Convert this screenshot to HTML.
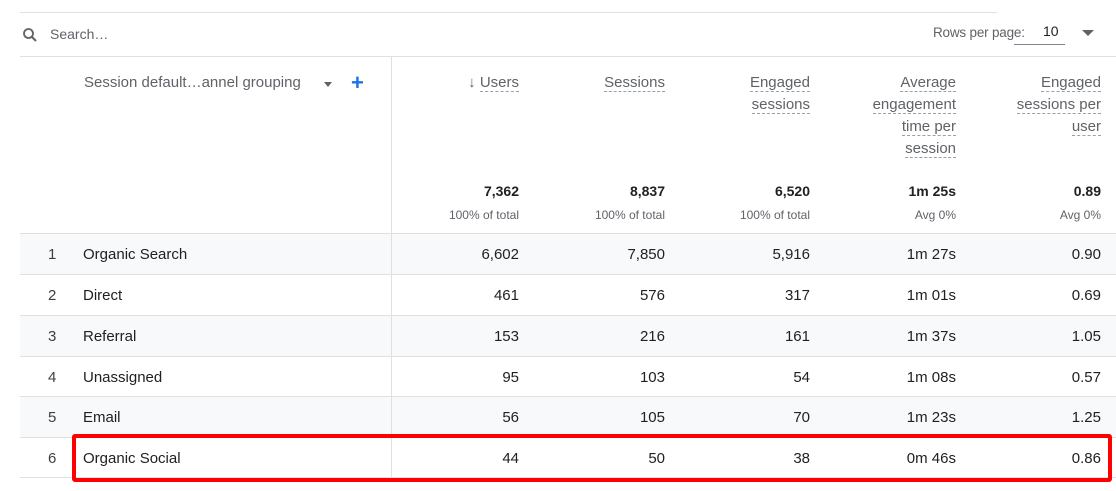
<!DOCTYPE html>
<html><head><style>
*{margin:0;padding:0;box-sizing:border-box}
body{width:1116px;height:491px;background:#fff;font-family:"Liberation Sans",sans-serif;position:relative;overflow:hidden;color:#202124}
.a{position:absolute;white-space:nowrap}
.hl{position:absolute;height:1px;background:#e0e0e0}
.r{text-align:right}
.h{color:#5f6368;font-size:15px;line-height:22px}
.h span{border-bottom:1px dashed #9aa0a6}
.tot{font-size:14px;font-weight:bold;color:#202124}
.sub{font-size:12px;color:#5f6368}
.row{position:absolute;left:20px;width:1096px;height:41px;border-top:1px solid #e0e0e0}
.cell{position:absolute;top:12px;font-size:15px;white-space:nowrap}
</style></head><body>
<div class="hl" style="left:20px;top:12px;width:977px"></div>
<svg class="a" style="left:22px;top:27px" width="16" height="16" viewBox="0 0 16 16"><circle cx="6.5" cy="6.5" r="4.5" fill="none" stroke="#5f6368" stroke-width="1.8"/><line x1="10" y1="10" x2="14" y2="14" stroke="#5f6368" stroke-width="2"/></svg>
<div class="a" style="left:50px;top:26px;font-size:14px;color:#5f6368">Search…</div>
<div class="a" style="left:933px;top:25px;font-size:13.5px;color:#5f6368;letter-spacing:-0.2px">Rows per page:</div>
<div class="a" style="left:1043px;top:23px;font-size:14px;color:#202124">10</div>
<div class="hl" style="left:1014px;top:44px;width:51px;background:#80868b"></div>
<div class="a" style="left:1082px;top:30px;width:0;height:0;border-left:6px solid transparent;border-right:6px solid transparent;border-top:6px solid #5f6368"></div>
<div class="hl" style="left:20px;top:56px;width:1096px"></div>
<div class="a h" style="left:84px;top:72px">Session default…annel grouping</div>
<div class="a" style="left:324px;top:82px;width:0;height:0;border-left:4px solid transparent;border-right:4px solid transparent;border-top:5px solid #5f6368"></div>
<div class="a" style="left:351px;top:70px;font-size:22px;color:#1a73e8;font-weight:bold">+</div>
<div class="a h r" style="right:597px;top:72px">↓ <span>Users</span></div>
<div class="a h r" style="right:451px;top:72px"><span>Sessions</span></div>
<div class="a h r" style="right:306px;top:72px"><span>Engaged</span><br><span>sessions</span></div>
<div class="a h r" style="right:160px;top:72px"><span>Average</span><br><span>engagement</span><br><span>time per</span><br><span>session</span></div>
<div class="a h r" style="right:15px;top:72px"><span>Engaged</span><br><span>sessions per</span><br><span>user</span></div>
<div class="a tot r" style="right:597px;top:183px">7,362</div>
<div class="a tot r" style="right:451px;top:183px">8,837</div>
<div class="a tot r" style="right:306px;top:183px">6,520</div>
<div class="a tot r" style="right:160px;top:183px">1m 25s</div>
<div class="a tot r" style="right:15px;top:183px">0.89</div>
<div class="a sub r" style="right:597px;top:208px">100% of total</div>
<div class="a sub r" style="right:451px;top:208px">100% of total</div>
<div class="a sub r" style="right:306px;top:208px">100% of total</div>
<div class="a sub r" style="right:160px;top:208px">Avg 0%</div>
<div class="a sub r" style="right:15px;top:208px">Avg 0%</div>

<div class="row" style="top:233px;background:#f8f9fa"><div class="cell" style="left:28px;color:#3c4043">1</div><div class="cell" style="left:63px">Organic Search</div><div class="cell r" style="right:597px">6,602</div><div class="cell r" style="right:451px">7,850</div><div class="cell r" style="right:306px">5,916</div><div class="cell r" style="right:160px">1m 27s</div><div class="cell r" style="right:15px">0.90</div></div>
<div class="row" style="top:274px"><div class="cell" style="left:28px;color:#3c4043">2</div><div class="cell" style="left:63px">Direct</div><div class="cell r" style="right:597px">461</div><div class="cell r" style="right:451px">576</div><div class="cell r" style="right:306px">317</div><div class="cell r" style="right:160px">1m 01s</div><div class="cell r" style="right:15px">0.69</div></div>
<div class="row" style="top:315px;background:#f8f9fa"><div class="cell" style="left:28px;color:#3c4043">3</div><div class="cell" style="left:63px">Referral</div><div class="cell r" style="right:597px">153</div><div class="cell r" style="right:451px">216</div><div class="cell r" style="right:306px">161</div><div class="cell r" style="right:160px">1m 37s</div><div class="cell r" style="right:15px">1.05</div></div>
<div class="row" style="top:356px"><div class="cell" style="left:28px;color:#3c4043">4</div><div class="cell" style="left:63px">Unassigned</div><div class="cell r" style="right:597px">95</div><div class="cell r" style="right:451px">103</div><div class="cell r" style="right:306px">54</div><div class="cell r" style="right:160px">1m 08s</div><div class="cell r" style="right:15px">0.57</div></div>
<div class="row" style="top:396px;background:#f8f9fa"><div class="cell" style="left:28px;color:#3c4043">5</div><div class="cell" style="left:63px">Email</div><div class="cell r" style="right:597px">56</div><div class="cell r" style="right:451px">105</div><div class="cell r" style="right:306px">70</div><div class="cell r" style="right:160px">1m 23s</div><div class="cell r" style="right:15px">1.25</div></div>
<div class="row" style="top:437px;border-bottom:1px solid #e0e0e0"><div class="cell" style="left:28px;color:#3c4043">6</div><div class="cell" style="left:63px">Organic Social</div><div class="cell r" style="right:597px">44</div><div class="cell r" style="right:451px">50</div><div class="cell r" style="right:306px">38</div><div class="cell r" style="right:160px">0m 46s</div><div class="cell r" style="right:15px">0.86</div></div>
<div class="a" style="left:391px;top:57px;width:1px;height:422px;background:#e0e0e0;z-index:5"></div>
<div class="a" style="left:72px;top:434px;width:1040px;height:48px;border:4px solid #ff0000;border-radius:3px;z-index:6"></div>
</body></html>
